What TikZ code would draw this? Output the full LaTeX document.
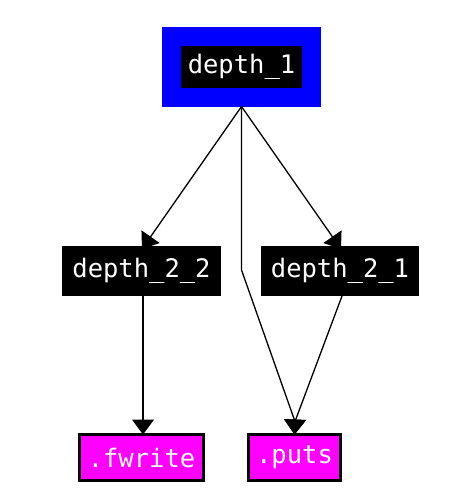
\documentclass[tikz,border=0pt]{standalone}
\usepackage{fontspec}
\newfontfamily\labelfont{DejaVu Sans Mono}
\usetikzlibrary{arrows.meta,calc}
\definecolor{importfill}{RGB}{255,0,255}
\definecolor{rootrim}{RGB}{0,0,255}
\begin{document}
\begin{tikzpicture}[x=1pt,y=-1pt,
  every node/.style={font=\labelfont\fontsize{25.5}{27}\selectfont, text=white, inner sep=0pt, outer sep=0pt},
  rootbox/.style={fill=black, draw=rootrim, line width=19pt, minimum width=140pt, minimum height=61.5pt},
  funcbox/.style={fill=black, minimum width=158.5pt, minimum height=50pt},
  importbox/.style={fill=importfill, draw=black, line width=3pt, minimum height=46pt},
  edge/.style={line width=1.3pt, -{Triangle[width=22pt,length=15pt]}}
]
\useasboundingbox (0,0) rectangle (472,497);

% call graph boxes
\node[rootbox] (d1) at (241.5,67) {depth\_1};
\node[funcbox] (d22) at (141.5,271) {depth\_2\_2};
\node[funcbox] (d21) at (340,271) {depth\_2\_1};
\node[importbox, minimum width=124pt] (fw) at (141.5,457.5) {.fwrite};
\node[importbox, minimum width=92pt] (puts) at (294.5,457.5) {.puts};

% routing points
\coordinate (src) at ($(d1.center)+(0,39.5)$);
\coordinate (bend) at ($(d1.center)+(0,203)$);
\coordinate (join) at ($(puts.north)+(0.5,-13)$);

% call edges
\draw[edge] (src) -- ($(d22.center)+(0.5,-22)$);
\draw[edge] (src) -- ($(d21.center)+(1,-22)$);
\draw[edge] (src) -- (bend) -- (join) -- (puts.north);
\draw[edge] ($(d21.south)+(2,0)$) -- (join) -- (puts.north);
\draw[edge] ($(d22.south)+(1.5,0)$) -- ($(fw.north)+(1.5,0)$);
\end{tikzpicture}
\end{document}
